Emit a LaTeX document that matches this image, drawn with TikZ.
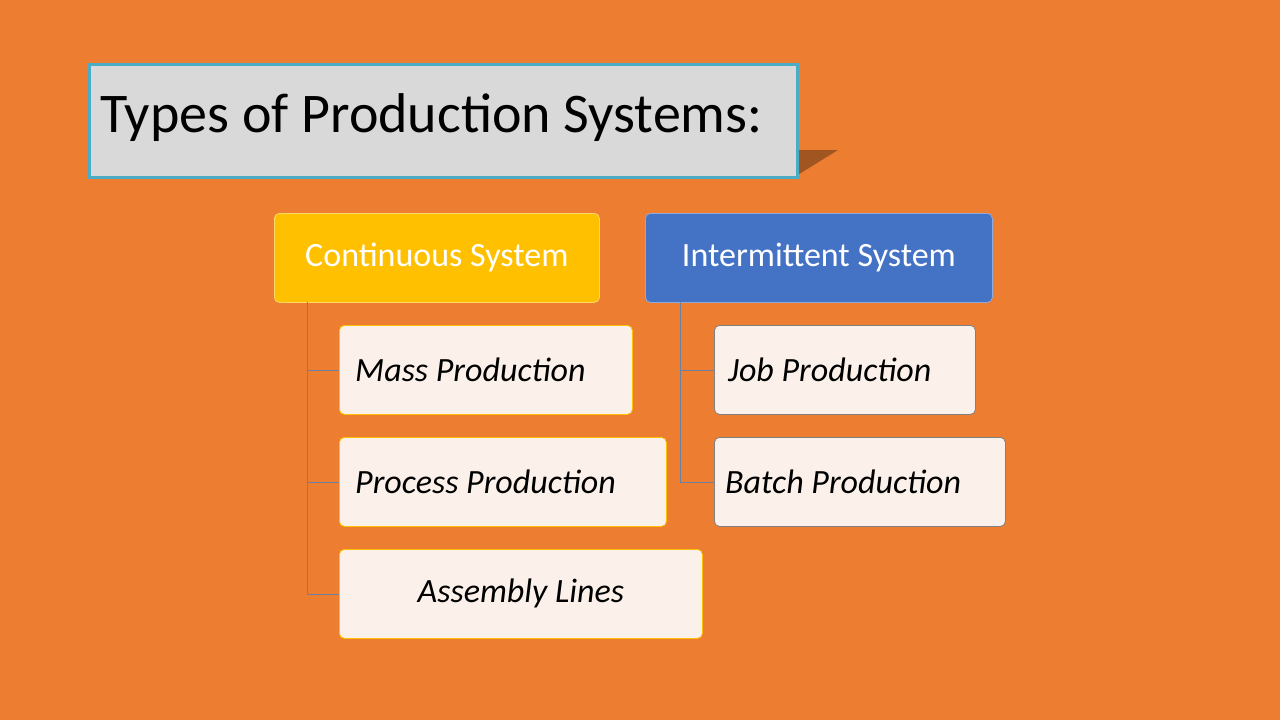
\documentclass[tikz,border=0pt]{standalone}
\usepackage{fontspec}
\setmainfont{Carlito}
\usetikzlibrary{shadows.blur}
\definecolor{bg}{HTML}{ED7D31}
\definecolor{tgray}{HTML}{D9D9D9}
\definecolor{tbord}{HTML}{4BACC6}
\definecolor{gold}{HTML}{FFC000}
\definecolor{blu}{HTML}{4472C4}
\definecolor{cream}{HTML}{FBF1EA}
\definecolor{conn}{HTML}{6F7FA0}
\tikzset{
 head/.style={draw=#1!60!white, line width=0.8pt, rounded corners=5pt, minimum height=89pt, text=white, font=\fontsize{34}{40}\selectfont, anchor=north west, inner xsep=0pt},
 kid/.style={draw=#1, fill=cream, line width=0.8pt, rounded corners=5pt, minimum height=89pt, font=\fontsize{34}{40}\selectfont\itshape, anchor=north west, inner xsep=0pt},
 conline/.style={draw=conn, line width=0.8pt}
}
\begin{document}
\begin{tikzpicture}[x=1pt,y=-1pt]
\fill[bg] (0,0) rectangle (1280,720);
\useasboundingbox (0,0) rectangle (1280,720);
% title shadow
\fill[black!40!bg, opacity=0.8] (700,150) -- (838,150) -- (796,176) -- (700,176) -- cycle;
\node[draw=tbord, fill=tgray, line width=2.5pt, minimum width=708pt, minimum height=113pt, anchor=north west, inner sep=0pt] (title) at (88,63) {};
\node[anchor=west, font=\fontsize{56}{64}\selectfont, inner sep=0pt] (tt) at (100,118) {Types of Production Systems:};
\node[head=gold, fill=gold, minimum width=325pt] (cont) at (274,213) {Continuous System};
\node[head=blu, fill=blu, minimum width=347pt] (inter) at (645,213) {Intermittent System};
\node[kid=gold, minimum width=293pt] (mass) at (339,325) {};
\node[anchor=west, font=\fontsize{34}{40}\selectfont\itshape, inner sep=0pt] at (355,369.5) {Mass Production};
\node[kid=gold, minimum width=327pt] (proc) at (339,437) {};
\node[anchor=west, font=\fontsize{34}{40}\selectfont\itshape, inner sep=0pt] at (355,481.5) {Process Production};
\node[kid=gold, minimum width=363pt] (asm) at (339,549) {Assembly Lines};
\node[kid=gray, minimum width=261pt] (job) at (714,325) {};
\node[anchor=west, font=\fontsize{34}{40}\selectfont\itshape, inner sep=0pt] at (728,369.5) {Job Production};
\node[kid=gray, minimum width=291pt] (batch) at (714,437) {};
\node[anchor=west, font=\fontsize{34}{40}\selectfont\itshape, inner sep=0pt] at (725,481.5) {Batch Production};
\coordinate (cl) at (307,302);
\coordinate (il) at (680,302);
\draw[conline] (cl) |- (mass.west);
\draw[conline] (cl) |- (proc.west);
\draw[conline] (cl) |- (asm.west);
\draw[conline] (il) |- (job.west);
\draw[conline] (il) |- (batch.west);
\end{tikzpicture}
\end{document}
